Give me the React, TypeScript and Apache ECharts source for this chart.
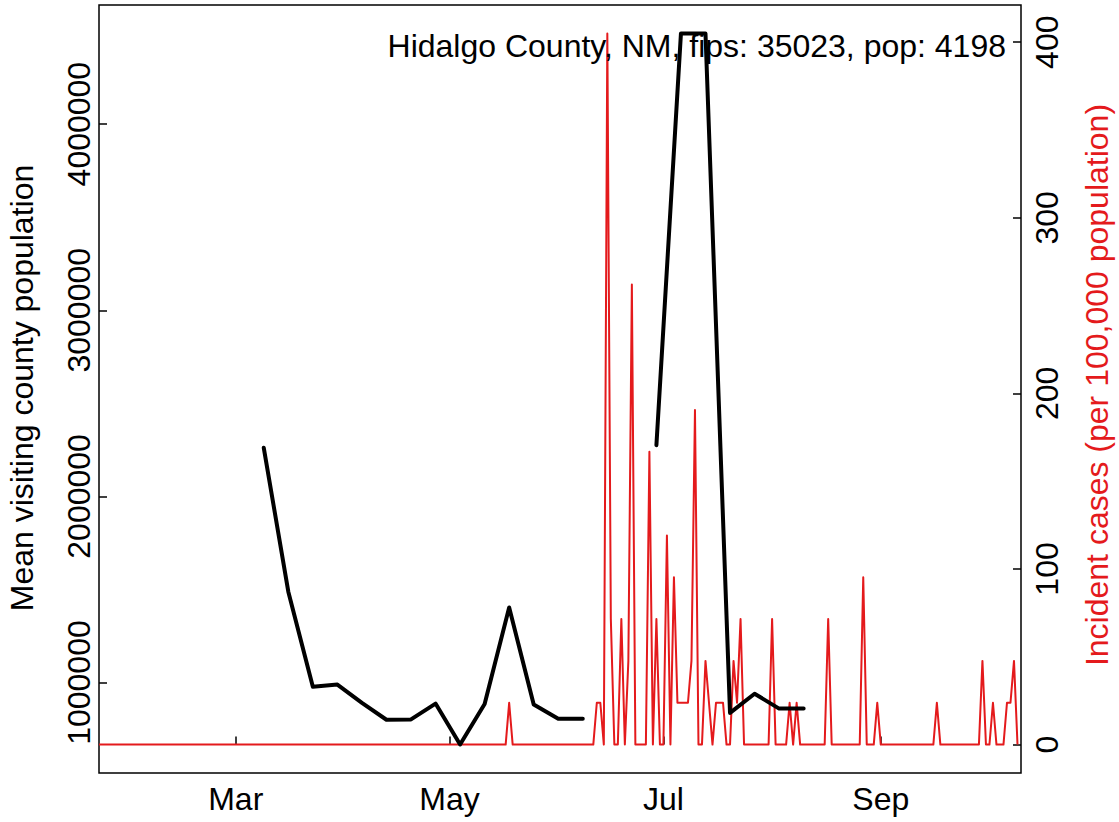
import React, { useEffect, useRef } from "react";
import * as echarts from "echarts";

// ---------- data ----------
const START_DATE = "2020-01-22";
const END_DATE = "2020-10-11";

const xTickDates = ["2020-03-01", "2020-05-01", "2020-07-01", "2020-09-01"];
const xTickLabels = ["Mar", "May", "Jul", "Sep"];

const leftTickValues = [1000000, 2000000, 3000000, 4000000];
const leftTickLabels = ["1000000", "2000000", "3000000", "4000000"];
const rightTickValues = [0, 100, 200, 300, 400];
const rightTickLabels = ["0", "100", "200", "300", "400"];

const titleText = "Hidalgo County, NM, fips: 35023, pop: 4198";
const leftAxisTitle = "Mean visiting county population";
const rightAxisTitle = "Incident cases (per 100,000 population)";

// weekly mean visiting county population (null = missing week)
const weekDates = [
  "2020-03-09", "2020-03-16", "2020-03-23", "2020-03-30", "2020-04-06",
  "2020-04-13", "2020-04-20", "2020-04-27", "2020-05-04", "2020-05-11",
  "2020-05-18", "2020-05-25", "2020-06-01", "2020-06-08", "2020-06-15",
  "2020-06-22", "2020-06-29", "2020-07-06", "2020-07-13", "2020-07-20",
  "2020-07-27", "2020-08-03", "2020-08-10",
];
const meanVisitingPop: (number | null)[] = [
  2261000, 1488000, 978000, 989000, 891000,
  800000, 802000, 887000, 667000, 885000,
  1403000, 882000, 806000, 806000, null,
  null, 2275000, 4487000, 4487000, 837000,
  940000, 860000, 860000,
];

// daily incident cases per 100,000 population, starting at START_DATE
const incidentPer100k = [
  0, 0, 0, 0, 0, 0, 0, 0, 0, 0,
  0, 0, 0, 0, 0, 0, 0, 0, 0, 0,
  0, 0, 0, 0, 0, 0, 0, 0, 0, 0,
  0, 0, 0, 0, 0, 0, 0, 0, 0, 0,
  0, 0, 0, 0, 0, 0, 0, 0, 0, 0,
  0, 0, 0, 0, 0, 0, 0, 0, 0, 0,
  0, 0, 0, 0, 0, 0, 0, 0, 0, 0,
  0, 0, 0, 0, 0, 0, 0, 0, 0, 0,
  0, 0, 0, 0, 0, 0, 0, 0, 0, 0,
  0, 0, 0, 0, 0, 0, 0, 0, 0, 0,
  0, 0, 0, 0, 0, 0, 0, 0, 0, 0,
  0, 0, 0, 0, 0, 0, 0, 23.82, 0, 0,
  0, 0, 0, 0, 0, 0, 0, 0, 0, 0,
  0, 0, 0, 0, 0, 0, 0, 0, 0, 0,
  0, 0, 23.82, 23.82, 0, 404.96, 71.46, 0, 0, 71.46,
  0, 47.64, 262.03, 0, 0, 0, 0, 166.75, 0, 71.46,
  0, 0, 119.1, 0, 95.28, 23.82, 23.82, 23.82, 23.82, 47.64,
  190.57, 0, 0, 47.64, 23.82, 0, 23.82, 23.82, 23.82, 0,
  0, 47.64, 23.82, 71.46, 0, 0, 0, 0, 0, 0,
  0, 0, 71.46, 0, 0, 0, 0, 23.82, 0, 23.82,
  0, 0, 0, 0, 0, 0, 0, 0, 71.46, 0,
  0, 0, 0, 0, 0, 0, 0, 0, 95.28, 0,
  0, 0, 23.82, 0, 0, 0, 0, 0, 0, 0,
  0, 0, 0, 0, 0, 0, 0, 0, 0, 23.82,
  0, 0, 0, 0, 0, 0, 0, 0, 0, 0,
  0, 0, 47.64, 0, 0, 23.82, 0, 0, 0, 23.82,
  23.82, 47.64, 0,
];

// ---------- helpers ----------
const DAY = 86400000;
const dayIndex = (s: string) =>
  (Date.parse(s + "T00:00:00Z") - Date.parse(START_DATE + "T00:00:00Z")) / DAY;

const FONT = '"Liberation Sans", Arial, Helvetica, sans-serif';
const RED = "#E41A1C";
const FS = 32;

export default function App() {
  const ref = useRef<HTMLDivElement>(null);

  useEffect(() => {
    if (!ref.current) return;
    const chart = echarts.init(ref.current, null, { renderer: "svg" });

    const xTickDays = xTickDates.map(dayIndex);
    const redData = incidentPer100k.map((v, i) => [i, v]);
    const blackData = weekDates.map((d, i) => [dayIndex(d), meanVisitingPop[i]]);

    const labelBase = { fontSize: FS, fontFamily: FONT, color: "#000" };
    const tickBase = { show: true, inside: true, length: 8, lineStyle: { color: "#000", width: 1.5 } };

    const option: any = {
      animation: false,
      backgroundColor: "#fff",
      grid: {
        left: 99, top: 5, width: 922, height: 768,
        show: true, borderColor: "#000", borderWidth: 1.5, backgroundColor: "transparent",
      },
      xAxis: {
        type: "value",
        min: 0,
        max: dayIndex(END_DATE),
        axisLine: { show: false },
        splitLine: { show: false },
        axisTick: { ...tickBase, customValues: xTickDays },
        axisLabel: {
          ...labelBase,
          margin: 10,
          customValues: xTickDays,
          formatter: (v: number) => {
            const k = xTickDays.indexOf(v);
            return k >= 0 ? xTickLabels[k] : "";
          },
        },
      },
      yAxis: [
        {
          type: "value",
          position: "left",
          min: 514000,
          max: 4640000,
          axisLine: { show: false },
          splitLine: { show: false },
          axisTick: { ...tickBase, customValues: leftTickValues },
          axisLabel: {
            ...labelBase,
            rotate: 90,
            margin: 4,
            customValues: leftTickValues,
            formatter: (v: number) => {
              const k = leftTickValues.indexOf(v);
              return k >= 0 ? leftTickLabels[k] : "";
            },
          },
        },
        {
          type: "value",
          position: "right",
          min: -16.2,
          max: 421.2,
          axisLine: { show: false },
          splitLine: { show: false },
          axisTick: { ...tickBase, customValues: rightTickValues },
          axisLabel: {
            ...labelBase,
            rotate: 90,
            margin: 10,
            customValues: rightTickValues,
            formatter: (v: number) => {
              const k = rightTickValues.indexOf(v);
              return k >= 0 ? rightTickLabels[k] : "";
            },
          },
        },
      ],
      series: [
        {
          type: "line",
          name: "incident",
          yAxisIndex: 1,
          data: redData,
          showSymbol: false,
          symbol: "none",
          lineStyle: { color: RED, width: 2, join: "round" },
          z: 2,
        },
        {
          type: "line",
          name: "visiting",
          yAxisIndex: 0,
          data: blackData,
          connectNulls: false,
          showSymbol: false,
          symbol: "none",
          lineStyle: { color: "#000", width: 4, join: "round", cap: "round" },
          z: 3,
        },
      ],
      graphic: [
        {
          type: "text",
          x: 1006,
          y: 46,
          z: 10,
          style: {
            text: titleText, fontSize: FS, fontFamily: FONT, fill: "#000",
            align: "right", verticalAlign: "middle", textAlign: "right", textVerticalAlign: "middle",
          },
        },
        {
          type: "text",
          x: 22,
          y: 388,
          rotation: Math.PI / 2,
          style: {
            text: leftAxisTitle, fontSize: FS, fontFamily: FONT, fill: "#000",
            align: "center", verticalAlign: "middle", textAlign: "center", textVerticalAlign: "middle",
          },
        },
        {
          type: "text",
          x: 1097,
          y: 385,
          rotation: Math.PI / 2,
          style: {
            text: rightAxisTitle, fontSize: FS, fontFamily: FONT, fill: RED,
            align: "center", verticalAlign: "middle", textAlign: "center", textVerticalAlign: "middle",
          },
        },
      ],
    };

    chart.setOption(option);
    return () => chart.dispose();
  }, []);

  return (
    <div
      ref={ref}
      style={{ position: "absolute", left: 0, top: 0, width: 1119, height: 822, background: "#fff" }}
    />
  );
}
